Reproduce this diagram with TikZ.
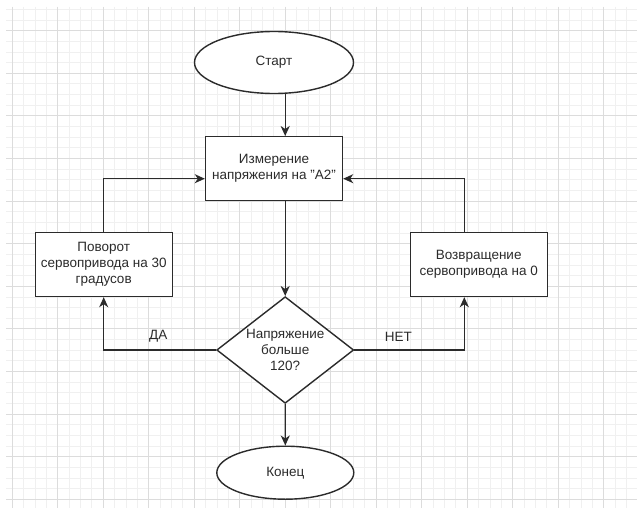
\documentclass[tikz,border=0pt]{standalone}
\usepackage{fontspec}
\setmainfont{Liberation Sans}
\usetikzlibrary{arrows.meta, shapes.geometric}

\definecolor{ink}{HTML}{2B2B2B}
\definecolor{gridminor}{HTML}{F0F0F0}
\definecolor{gridmajor}{HTML}{DCDCDC}

\begin{document}
\begin{tikzpicture}[
  x=1pt, y=-1pt,
  font=\fontsize{13.5}{16}\selectfont,
  block/.style   ={draw=ink, line width=1.4pt, fill=white, align=center, text=ink,
                   minimum width=137pt, minimum height=64pt, inner sep=1pt},
  terminal/.style={block, ellipse},
  decision/.style={block, diamond, minimum width=137pt, minimum height=106.6pt,
                   inner sep=0pt, aspect=1.3},
  arr/.style     ={-{Stealth[length=10pt, width=9pt, inset=3pt]}, draw=ink, line width=1.4pt},
  lbl/.style     ={text=ink, inner sep=0pt},
]
  % background with grid
  \useasboundingbox (0,0) rectangle (637,508);
  \fill[white] (0,0) rectangle (637,508);
  \begin{scope}
    \clip (6,7) rectangle (637,508);
    \foreach \i in {0,...,55} \draw[gridminor, line width=0.9pt] (12.3+11.375*\i,7) -- (12.3+11.375*\i,508);
    \foreach \j in {-2,...,45} \draw[gridminor, line width=0.9pt] (6,30.7+10.65*\j) -- (637,30.7+10.65*\j);
    \foreach \i in {0,...,13} \draw[gridmajor, line width=0.9pt] (12.3+45.5*\i,7) -- (12.3+45.5*\i,508);
    \foreach \j in {0,...,11} \draw[gridmajor, line width=0.9pt] (6,30.7+42.6*\j) -- (637,30.7+42.6*\j);
  \end{scope}

  % flowchart
  \node[terminal, minimum width=159pt, minimum height=62pt] (start) at (274,62.5)  {Старт};
  \node[block, minimum height=63.5pt]                        (meas)  at (274,168.5) {Измерение\\напряжения на "A2"};
  \node[decision]                                            (dec)   at (285.2,350) {Напряжение\\больше\\120?};
  \node[block]                                               (turn)  at (103.7,264.5) {Поворот\\сервопривода на 30\\градусов};
  \node[block]                                               (back)  at (478.7,264.5) {Возвращение\\сервопривода на 0};
  \node[terminal, minimum height=53pt]                       (stop)  at (285.3,472.7) {Конец};

  \draw[arr] (start.south -| dec.north) -- (meas.north -| dec.north);
  \draw[arr] (meas.south -| dec.north) -- (dec.north);
  \draw[arr] (dec.south) -- (stop.north);
  \draw[arr] (dec.west) -| node[lbl, pos=0.257, above=7pt] (yes) {ДА} (turn.south);
  \draw[arr] (dec.east) -| node[lbl, pos=0.2, above=8pt] (no) {НЕТ} ([xshift=-14.4pt]back.south);
  \draw[arr] (turn.north) |- ([yshift=-10.2pt]meas.west);
  \draw[arr] ([xshift=-14.4pt]back.north) |- ([yshift=-10.2pt]meas.east);
\end{tikzpicture}
\end{document}
